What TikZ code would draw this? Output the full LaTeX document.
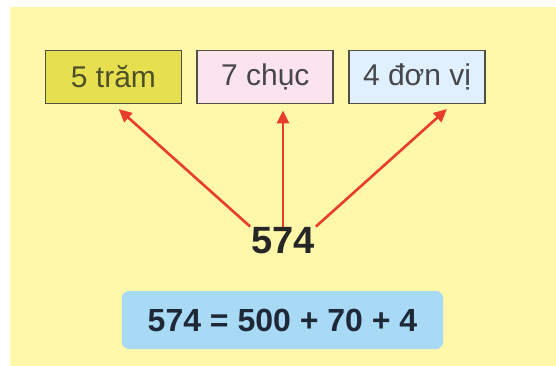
\documentclass[tikz,border=0pt]{standalone}
\usepackage{fontspec}
\setmainfont{Liberation Sans}
\usetikzlibrary{arrows.meta,positioning}
\definecolor{pageYellow}{RGB}{255,247,170}
\definecolor{hundredFill}{RGB}{230,224,80}
\definecolor{hundredText}{RGB}{80,80,40}
\definecolor{tenFill}{RGB}{252,228,238}
\definecolor{unitFill}{RGB}{224,240,255}
\definecolor{boxLine}{RGB}{80,80,70}
\definecolor{digitText}{RGB}{70,70,75}
\definecolor{arrowRed}{RGB}{232,60,45}
\definecolor{sumBlue}{RGB}{168,218,245}
\definecolor{sumText}{RGB}{30,40,55}

\begin{document}
\begin{tikzpicture}[x=1pt, y=-1pt,
  placebox/.style={rectangle, draw=boxLine, line width=1.8pt,
    minimum width=136pt, minimum height=53pt, inner sep=0pt,
    font=\fontsize{30}{34}\selectfont},
  partarrow/.style={draw=arrowRed, line width=2.6pt,
    -{Triangle[length=13pt, width=12pt]}, shorten >=7pt}]
  \useasboundingbox (0,0) rectangle (556,366);
  \fill[pageYellow] (10,7) rectangle (556,366);

  % place value boxes
  \node[placebox, fill=hundredFill, text=hundredText] (tram) at (113.5,77) {5 trăm};
  \node[placebox, fill=tenFill, text=digitText, right=14pt of tram] (chuc) {7 chục};
  \node[placebox, fill=unitFill, text=digitText, right=14pt of chuc] (donvi) {4 đơn vị};

  % the number
  \node[inner sep=1pt, font=\fontsize{38}{42}\selectfont\bfseries,
        text=black!85] (num) at (283,241) {574};

  \draw[partarrow] (num.north west) -- (tram.south);
  \draw[partarrow, shorten >=6pt] (num.north) -- (num.north |- chuc.south);
  \draw[partarrow] (num.north east) -- ([xshift=35pt]donvi.south);

  % expanded form
  \node[rectangle, rounded corners=7pt, fill=sumBlue, text=sumText,
        minimum width=321pt, minimum height=58pt,
        font=\fontsize{32}{36}\selectfont\bfseries] (sum) at (282.5,320)
    {574 = 500 + 70 + 4};
\end{tikzpicture}
\end{document}
